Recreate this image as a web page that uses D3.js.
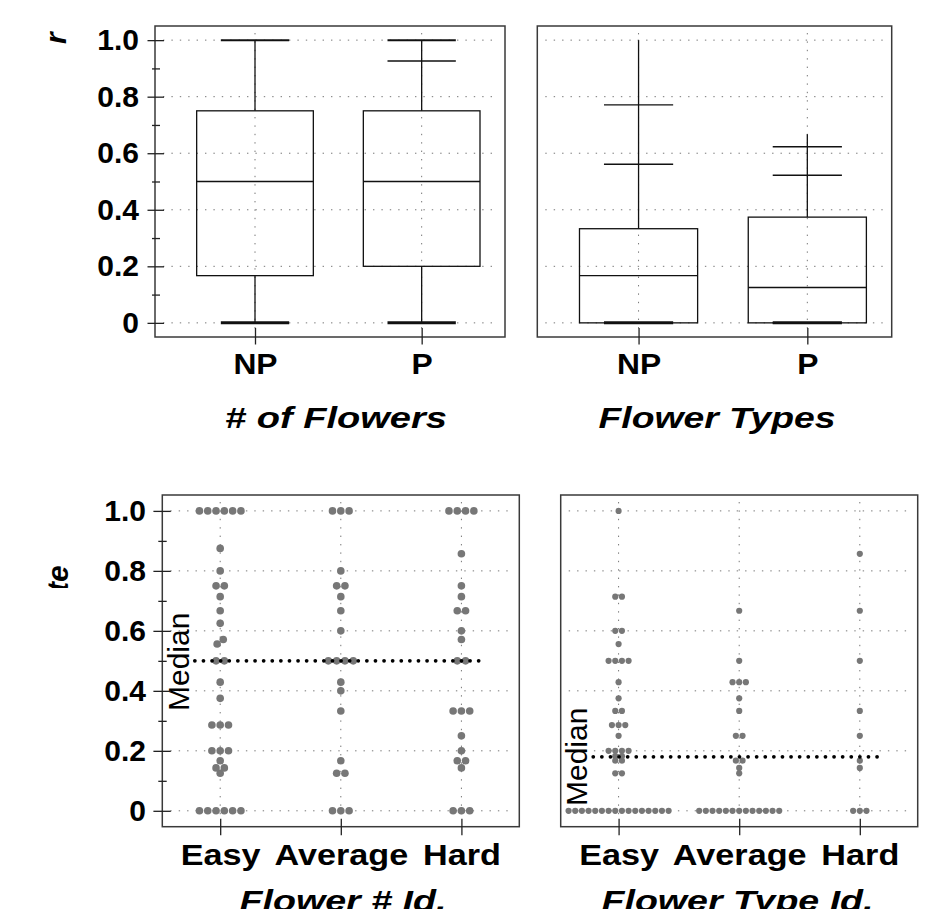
<!DOCTYPE html>
<html>
<head>
<meta charset="utf-8">
<script src="https://cdn.jsdelivr.net/npm/d3@7"></script>
<style>
  body { margin: 0; background: #fff; }
  svg { display: block; font-family: "Liberation Sans", Arial, Helvetica, sans-serif; }
</style>
</head>
<body>
<svg width="929" height="909"></svg>
<script>
// top row: box plots, [min, q1, median, q3, max]
const boxCats = ["NP", "P"];
const numBoxes = [[0, 0.167, 0.5, 0.75, 1.0], [0, 0.2, 0.5, 0.75, 1.0]];
const numMarks = [[0, 1.0], [0, 0.926, 1.0]];
const typeBoxes = [[0, 0, 0.167, 0.333, 1.0], [0, 0, 0.125, 0.374, 0.667]];
const typeMarks = [[0, 0.561, 0.771], [0, 0.522, 0.623]];

// bottom row: individual scores per level
const levels = ["Easy", "Average", "Hard"];
const numIdEasy = [1, 1, 1, 1, 1, 1, 0.875, 0.8, 0.75, 0.75, 0.714, 0.667, 0.625, 0.571, 0.556,
  0.5, 0.5, 0.429, 0.375, 0.286, 0.286, 0.286, 0.2, 0.2, 0.2, 0.167, 0.143, 0.143, 0.125,
  0, 0, 0, 0, 0, 0];
const numIdAverage = [1, 1, 1, 0.8, 0.75, 0.75, 0.714, 0.667, 0.6, 0.5, 0.5, 0.5, 0.5, 0.429, 0.4,
  0.333, 0.167, 0.125, 0.125, 0, 0, 0];
const numIdHard = [1, 1, 1, 1, 0.857, 0.75, 0.714, 0.667, 0.667, 0.6, 0.571, 0.5, 0.5,
  0.333, 0.333, 0.333, 0.25, 0.2, 0.167, 0.167, 0.143, 0, 0, 0];
const typeIdEasy = [1, 0.714, 0.714, 0.6, 0.6, 0.556, 0.5, 0.5, 0.5, 0.5, 0.429, 0.375, 0.333, 0.333,
  0.286, 0.286, 0.286, 0.25, 0.2, 0.2, 0.2, 0.2, 0.182, 0.182, 0.167, 0.167, 0.125, 0.125,
  0, 0, 0, 0, 0, 0, 0, 0, 0, 0, 0, 0, 0, 0, 0, 0];
const typeIdAverage = [0.667, 0.5, 0.429, 0.429, 0.429, 0.375, 0.333, 0.25, 0.25, 0.167, 0.167,
  0.143, 0.125, 0, 0, 0, 0, 0, 0, 0, 0, 0, 0, 0, 0, 0];
const typeIdHard = [0.857, 0.667, 0.5, 0.333, 0.25, 0.167, 0.143, 0, 0, 0];
const medianNumId = 0.5;
const medianTypeId = 0.18;

const yTicks = [0, 0.2, 0.4, 0.6, 0.8, 1.0];
const yMinor = [0.1, 0.3, 0.5, 0.7, 0.9];
const fmt = d => d === 0 ? "0" : d3.format(".1f")(d);

const svg = d3.select("svg");

const yTop = d3.scaleLinear().domain([-0.05, 1.05]).range([337, 26]);
const yBot = d3.scaleLinear().domain([-0.053, 1.053]).range([826.7, 495]);

function grid(g, x, y, xs) {
  const [x0, x1] = x.range(), [yb, yt] = y.range();
  g.selectAll(".hg").data(yTicks).enter().append("line")
    .attr("x1", x0 + 8).attr("x2", x1 - 6)
    .attr("y1", d => y(d)).attr("y2", d => y(d))
    .attr("stroke", "#777").attr("stroke-dasharray", "1.4,7");
  g.selectAll(".vg").data(xs).enter().append("line")
    .attr("x1", d => x(d)).attr("x2", d => x(d))
    .attr("y1", yt + 7).attr("y2", yb - 6)
    .attr("stroke", "#777").attr("stroke-dasharray", "1.4,7");
}

function frame(g, x, y) {
  const [x0, x1] = x.range(), [yb, yt] = y.range();
  g.append("rect").attr("x", x0).attr("y", yt).attr("width", x1 - x0).attr("height", yb - yt)
    .attr("fill", "none").attr("stroke", "#3a3a3a").attr("stroke-width", 1.5);
}

function styleAxis(a, size) {
  a.select(".domain").remove();
  a.selectAll("line").attr("stroke", "#222").attr("stroke-width", 1.3);
  a.selectAll("text").attr("font-size", size).attr("font-weight", "bold")
    .attr("font-family", "Liberation Sans, Arial, sans-serif").attr("fill", "#000");
}

function yAxis(g, y, xMajor, majorLen, pad, xMinor, minorLen) {
  const a = g.append("g").attr("transform", `translate(${xMajor},0)`)
    .call(d3.axisLeft(y).tickValues(yTicks).tickFormat(fmt).tickSize(majorLen).tickPadding(pad));
  styleAxis(a, 30);
  const m = g.append("g").attr("transform", `translate(${xMinor},0)`)
    .call(d3.axisLeft(y).tickValues(yMinor).tickFormat("").tickSize(minorLen));
  styleAxis(m, 30);
}

function xAxis(g, x, yPos, names, stretch) {
  const a = g.append("g").attr("transform", `translate(0,${yPos})`)
    .call(d3.axisBottom(x).tickValues(d3.range(1, names.length + 1))
      .tickFormat((d, i) => names[i]).tickSize(16.5).tickPadding(8.5));
  styleAxis(a, 30);
  a.selectAll("text").each(function () {
    const w = this.getComputedTextLength();
    d3.select(this).attr("textLength", w * stretch).attr("lengthAdjust", "spacingAndGlyphs");
  });
}

function title(text, cx, base, width) {
  svg.append("text").attr("x", cx).attr("y", base).attr("text-anchor", "middle")
    .attr("font-size", 30).attr("font-weight", "bold").attr("font-style", "italic")
    .attr("textLength", width).attr("lengthAdjust", "spacingAndGlyphs")
    .text(text);
}

function boxPanel(x0, x1, boxes, marks, showY) {
  const g = svg.append("g");
  const x = d3.scaleLinear().domain([0.4, 2.5]).range([x0, x1]);
  const y = yTop;
  grid(g, x, y, [1, 2]);
  const bw = 0.35, cw = 0.205;
  boxes.forEach((b, i) => {
    const c = i + 1;
    const [lo, q1, med, q3, hi] = b;
    const bg = g.append("g").attr("stroke", "#111").attr("stroke-width", 1.3).attr("fill", "none");
    if (q1 > lo) bg.append("line").attr("x1", x(c)).attr("x2", x(c)).attr("y1", y(lo)).attr("y2", y(q1));
    bg.append("line").attr("x1", x(c)).attr("x2", x(c)).attr("y1", y(q3)).attr("y2", y(hi));
    bg.append("rect").attr("x", x(c - bw)).attr("width", x(c + bw) - x(c - bw))
      .attr("y", y(q3)).attr("height", y(q1) - y(q3));
    bg.append("line").attr("x1", x(c - bw)).attr("x2", x(c + bw)).attr("y1", y(med)).attr("y2", y(med));
    bg.selectAll(".mk").data(marks[i]).enter().append("line")
      .attr("x1", x(c - cw)).attr("x2", x(c + cw))
      .attr("y1", d => y(d)).attr("y2", d => y(d))
      .attr("stroke-width", d => d === 0 ? 3 : (d === 1 ? 2 : 1.4));
  });
  frame(g, x, y);
  if (showY) yAxis(g, y, x0 + 9, 16.5, 8.5, x0 + 5, 8);
  xAxis(g, x, y.range()[0] - 9, boxCats, 1.06);
}

function dotRows(values, spacing, diam, y) {
  const groups = d3.groups(values, v => v).sort((a, b) => a[0] - b[0]);
  const pts = [];
  groups.forEach(([v, arr], gi) => {
    const n = arr.length;
    arr.forEach((_, i) => pts.push({ v, dx: (i - (n - 1) / 2) * spacing, n, gi }));
  });
  // nudge neighbouring single dots apart when they would overlap
  for (let gi = 1; gi < groups.length; gi++) {
    const a = groups[gi - 1], b = groups[gi];
    if (a[1].length === 1 && b[1].length === 1) {
      const dy = Math.abs(y(a[0]) - y(b[0]));
      if (dy < diam * 0.8) {
        const sep = Math.sqrt(diam * diam - dy * dy) / 2;
        pts.find(p => p.gi === gi - 1).dx = -sep;
        pts.find(p => p.gi === gi).dx = sep;
      }
    }
  }
  return pts;
}

function dotPanel(x0, x1, series, median, r, spacing, showY, medianPos) {
  const g = svg.append("g");
  const x = d3.scaleLinear().domain([0.52, 3.48]).range([x0, x1]);
  const y = yBot;
  grid(g, x, y, [1, 2, 3]);
  series.forEach((vals, i) => {
    const pts = dotRows(vals, spacing, r * 2, y);
    g.append("g").selectAll("circle").data(pts).enter().append("circle")
      .attr("cx", d => x(i + 1) + d.dx).attr("cy", d => y(d.v)).attr("r", r)
      .attr("fill", "#777");
  });
  g.append("line").attr("x1", x(0.79)).attr("x2", x(3.2))
    .attr("y1", y(median)).attr("y2", y(median))
    .attr("stroke", "#000").attr("stroke-width", 3.8)
    .attr("stroke-linecap", "round").attr("stroke-dasharray", "0,8.6");
  g.append("text").attr("transform", `translate(${medianPos[0]},${medianPos[1]}) rotate(-90)`)
    .attr("font-size", 30).attr("fill", "#000").text("Median");
  frame(g, x, y);
  if (showY) yAxis(g, y, x0 + 8.5, 17.4, 7.5, x0 + 4.4, 8.4);
  xAxis(g, x, y.range()[0] - 8, levels, 1.14);
}

boxPanel(155, 505, numBoxes, numMarks, true);
boxPanel(537.3, 891.7, typeBoxes, typeMarks, false);
dotPanel(162.3, 519.3, [numIdEasy, numIdAverage, numIdHard], medianNumId, 3.8, 8.3, true, [189, 711]);
dotPanel(560.7, 917.7, [typeIdEasy, typeIdAverage, typeIdHard], medianTypeId, 3.1, 6.67, false, [587, 806]);

title("# of Flowers", 336, 428, 222);
title("Flower Types", 717, 428, 237);
title("Flower # Id.", 343, 911, 207);
title("Flower Type Id.", 737.5, 911, 272);

// y titles, mostly cut off in the source figure
svg.append("text").attr("transform", "translate(66,44) rotate(-90)")
  .attr("font-size", 30).attr("font-weight", "bold").attr("font-style", "italic").text("r");
svg.append("defs").append("clipPath").attr("id", "ycut").append("rect")
  .attr("x", 0).attr("y", 500).attr("width", 120).attr("height", 88);
svg.append("g").attr("clip-path", "url(#ycut)")
  .append("text").attr("transform", "translate(68,592) rotate(-90)")
  .attr("font-size", 30).attr("font-weight", "bold").attr("font-style", "italic").text("te");
</script>
</body>
</html>
